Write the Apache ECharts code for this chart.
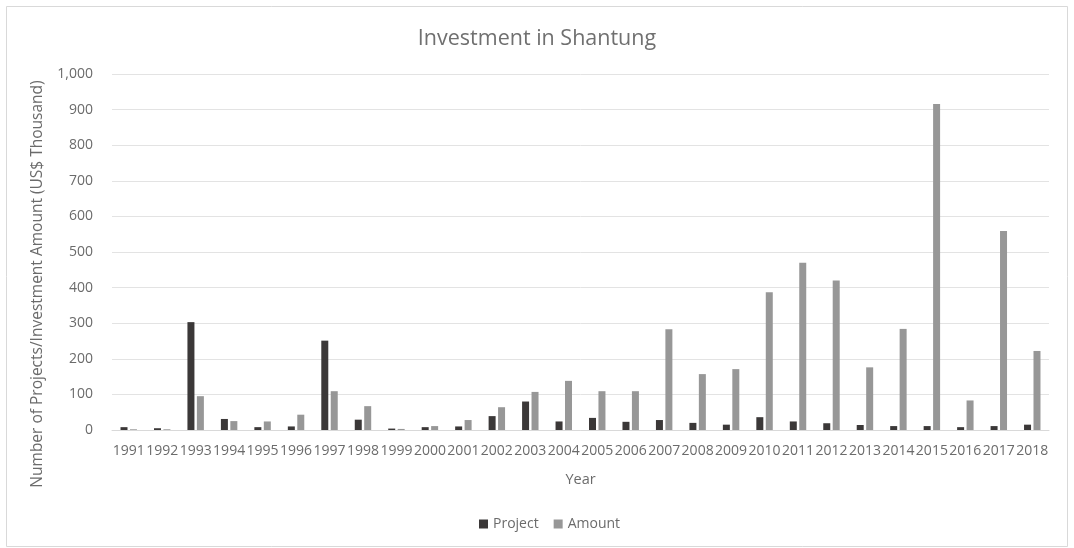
<!DOCTYPE html>
<html>
<head>
<meta charset="utf-8">
<script src="https://cdn.jsdelivr.net/npm/echarts@6/dist/echarts.min.js"></script>
<style>html,body{margin:0;padding:0;background:#fff}#c{width:1074px;height:548px}</style>
</head>
<body>
<div id="c"></div>
<script>
const years = ['1991','1992','1993','1994','1995','1996','1997','1998','1999','2000','2001','2002','2003','2004','2005','2006','2007','2008','2009','2010','2011','2012','2013','2014','2015','2016','2017','2018'];
const project = [8,5,303,31,8,10,251,29,4,8,10,39,80,24,34,23,28,20,15,36,24,19,14,11,11,8,11,15];
const amount = [2,2,95,25,24,43,109,67,3,11,28,64,107,138,109,109,283,157,171,387,470,420,176,284,916,83,559,222];
const yTicks = [0,100,200,300,400,500,600,700,800,900,1000];

const FONT = 'Open Sans';
const TXT = '#6b6b6b';
const chart = echarts.init(document.getElementById('c'), null, {renderer:'canvas'});
chart.setOption({
  animation:false,
  backgroundColor:'#fff',
  graphic:[{type:'rect',shape:{x:6.5,y:6.5,width:1061,height:540},style:{fill:'none',stroke:'#d9d9d9',lineWidth:1},silent:true}],
  title:{text:'Investment in Shantung',left:'center',top:23,textStyle:{fontFamily:FONT,fontSize:21.5,fontWeight:'normal',color:'#707070'}},
  legend:{bottom:12,left:474,itemWidth:9,itemHeight:9,itemGap:15,icon:'rect',textStyle:{fontFamily:FONT,fontSize:14,color:TXT},data:['Project','Amount']},
  grid:{left:112,right:25,top:74,bottom:118,containLabel:false},
  xAxis:{type:'category',data:years,name:'Year',nameLocation:'middle',nameGap:42,
    nameTextStyle:{fontFamily:FONT,fontSize:14.5,color:TXT},
    axisLine:{lineStyle:{color:'#d9d9d9'}},axisTick:{show:false},
    axisLabel:{interval:0,fontFamily:FONT,fontSize:14,color:TXT,margin:14}},
  yAxis:{type:'value',min:0,max:1000,interval:100,
    name:'Number of Projects/Investment Amount (US$ Thousand)',nameLocation:'middle',nameGap:66,
    nameTextStyle:{fontFamily:FONT,fontSize:15.5,color:TXT,padding:[0,64,0,0]},
    axisLine:{show:false},axisTick:{show:false},
    splitLine:{lineStyle:{color:'#e3e3e3'}},
    axisLabel:{fontFamily:FONT,fontSize:14,color:TXT,margin:19,
      formatter:v=>yTicks.includes(v)?v.toLocaleString('en-US'):''}},
  series:[
    {name:'Project',type:'bar',data:project,barWidth:7,barGap:'35%',itemStyle:{color:'#3b3838'}},
    {name:'Amount',type:'bar',data:amount,barWidth:7,itemStyle:{color:'#979797'}}
  ]
});
</script>
</body>
</html>
